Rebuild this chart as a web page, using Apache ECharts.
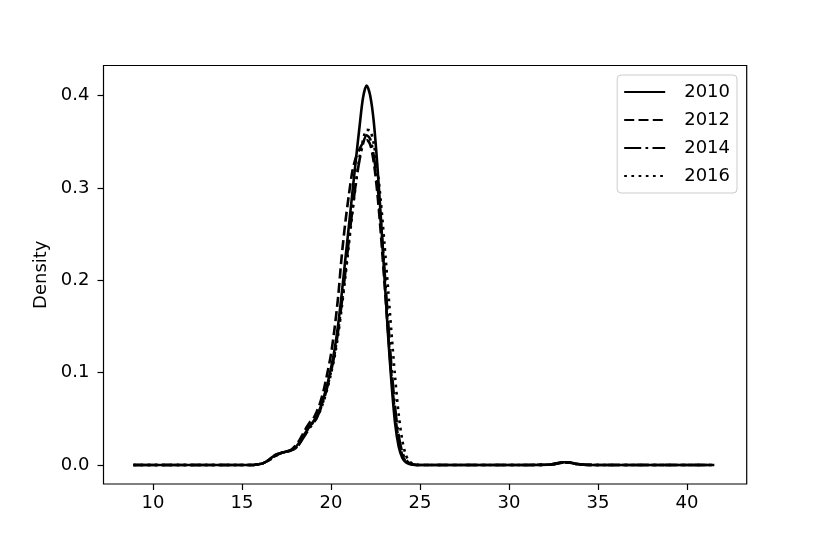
<!DOCTYPE html>
<html>
<head>
<meta charset="utf-8">
<script src="https://cdn.jsdelivr.net/npm/echarts@6/dist/echarts.min.js"></script>
<style>html,body{margin:0;padding:0;background:#fff}#c{width:830px;height:554px}</style>
</head>
<body>
<div id="c"></div>
<script>
// Shared x grid (KDE evaluation points)
const xGrid = [8.9, 12, 15, 15.6, 15.8, 16.0, 16.2, 16.4, 16.6, 16.8, 17.0, 17.2, 17.4, 17.6, 17.8, 18.0, 18.2, 18.4, 18.6, 18.8, 19.0, 19.2, 19.4, 19.6, 19.8, 20.0, 20.2, 20.4, 20.6, 20.8, 21.0, 21.2, 21.4, 21.6, 21.8, 22.0, 22.2, 22.4, 22.6, 22.8, 23.0, 23.2, 23.4, 23.6, 23.8, 24.0, 24.2, 24.4, 24.6, 24.8, 25.0, 26, 30, 32.2, 32.6, 33.0, 33.4, 33.8, 34.2, 35];
const seriesNames = ['2010', '2012', '2014', '2016'];
const xEnd = [41.3, 41.4, 41.5, 41.7];
const d2010 = [0, 0, 0, 0, 0.0005, 0.001, 0.002, 0.004, 0.007, 0.010, 0.012, 0.013, 0.014, 0.015, 0.016, 0.019, 0.024, 0.030, 0.036, 0.042, 0.047, 0.053, 0.062, 0.074, 0.088, 0.105, 0.125, 0.152, 0.185, 0.222, 0.258, 0.295, 0.331, 0.366, 0.398, 0.411, 0.400, 0.372, 0.325, 0.268, 0.205, 0.142, 0.088, 0.045, 0.020, 0.008, 0.003, 0.001, 0.0003, 0, 0, 0, 0, 0.0002, 0.0015, 0.003, 0.0028, 0.0012, 0.0003, 0];
const d2012 = [0, 0, 0, 0, 0.0005, 0.001, 0.002, 0.004, 0.007, 0.010, 0.012, 0.013, 0.014, 0.015, 0.017, 0.021, 0.026, 0.033, 0.040, 0.046, 0.050, 0.058, 0.068, 0.082, 0.100, 0.120, 0.148, 0.182, 0.226, 0.262, 0.292, 0.318, 0.333, 0.342, 0.349, 0.352, 0.347, 0.328, 0.295, 0.250, 0.198, 0.145, 0.095, 0.055, 0.027, 0.011, 0.004, 0.0015, 0.0005, 0, 0, 0, 0, 0.0002, 0.0012, 0.0025, 0.0024, 0.0010, 0.0003, 0];
const d2014 = [0, 0, 0, 0, 0.0005, 0.001, 0.002, 0.004, 0.006, 0.009, 0.011, 0.013, 0.014, 0.015, 0.016, 0.018, 0.022, 0.028, 0.034, 0.040, 0.045, 0.051, 0.060, 0.071, 0.085, 0.101, 0.120, 0.145, 0.175, 0.208, 0.243, 0.276, 0.306, 0.330, 0.348, 0.357, 0.353, 0.335, 0.305, 0.262, 0.212, 0.158, 0.105, 0.062, 0.032, 0.014, 0.006, 0.002, 0.0007, 0, 0, 0, 0, 0.0002, 0.0012, 0.0025, 0.0024, 0.0010, 0.0003, 0];
const d2016 = [0, 0, 0, 0, 0.0005, 0.001, 0.002, 0.004, 0.006, 0.009, 0.011, 0.013, 0.014, 0.015, 0.016, 0.018, 0.023, 0.029, 0.036, 0.042, 0.046, 0.051, 0.059, 0.070, 0.083, 0.099, 0.117, 0.141, 0.170, 0.203, 0.238, 0.273, 0.305, 0.333, 0.352, 0.363, 0.362, 0.348, 0.322, 0.285, 0.240, 0.192, 0.142, 0.095, 0.055, 0.027, 0.011, 0.004, 0.0015, 0.0004, 0, 0, 0, 0.0002, 0.0012, 0.0025, 0.0024, 0.0010, 0.0003, 0];
const xTicks = [10, 15, 20, 25, 30, 35, 40];
const yTicks = [0, 0.1, 0.2, 0.3, 0.4];

const allY = [d2010, d2012, d2014, d2016];
const dashTypes = ['solid', [10, 4.3], [17, 4.3, 2.7, 4.3], [2.7, 4.5]];
const FONT = 'DejaVu Sans';

const series = seriesNames.map((name, i) => {
  const pts = xGrid.map((x, j) => [x, allY[i][j]]);
  pts.push([xEnd[i], 0]);
  return {
    name: name,
    type: 'line',
    data: pts,
    smooth: 0.3,
    symbol: 'none',
    z: 10 - i,
    lineStyle: { color: '#000', width: 2.6, type: dashTypes[i], cap: 'butt' },
    itemStyle: { color: '#000' }
  };
});

const chart = echarts.init(document.getElementById('c'), null, { renderer: 'canvas' });
chart.setOption({
  animation: false,
  backgroundColor: '#fff',
  grid: { left: 103.5, right: 83.3, top: 65.5, bottom: 70, show: true, borderColor: '#000', borderWidth: 1.2, backgroundColor: 'transparent', containLabel: false },
  xAxis: {
    type: 'value', min: 7.22, max: 43.35,
    axisLine: { show: false, onZero: false },
    splitLine: { show: false },
    axisTick: { show: true, length: 6, lineStyle: { color: '#000', width: 1.2 }, customValues: xTicks },
    axisLabel: { customValues: xTicks, color: '#000', fontFamily: FONT, fontSize: 18, margin: 10 }
  },
  yAxis: {
    type: 'value', min: -0.0206, max: 0.4326,
    name: 'Density', nameLocation: 'middle', nameGap: 51,
    nameTextStyle: { color: '#000', fontFamily: FONT, fontSize: 18 },
    axisLine: { show: false, onZero: false },
    splitLine: { show: false },
    axisTick: { show: true, length: 6, lineStyle: { color: '#000', width: 1.2 }, customValues: yTicks },
    axisLabel: { customValues: yTicks, color: '#000', fontFamily: FONT, fontSize: 18, margin: 14, formatter: v => v.toFixed(1) }
  },
  legend: {
    orient: 'vertical', right: 93, top: 75,
    padding: [7, 7, 7, 6],
    itemWidth: 41, itemHeight: 14, itemGap: 8,
    borderColor: '#cccccc', borderWidth: 1, borderRadius: 4,
    backgroundColor: 'rgba(255,255,255,0.8)',
    itemStyle: { opacity: 0 },
    textStyle: { color: '#000', fontFamily: FONT, fontSize: 18, lineHeight: 20, padding: [0, 0, 0, 14] },
    data: seriesNames
  },
  series: series
});
</script>
</body>
</html>
